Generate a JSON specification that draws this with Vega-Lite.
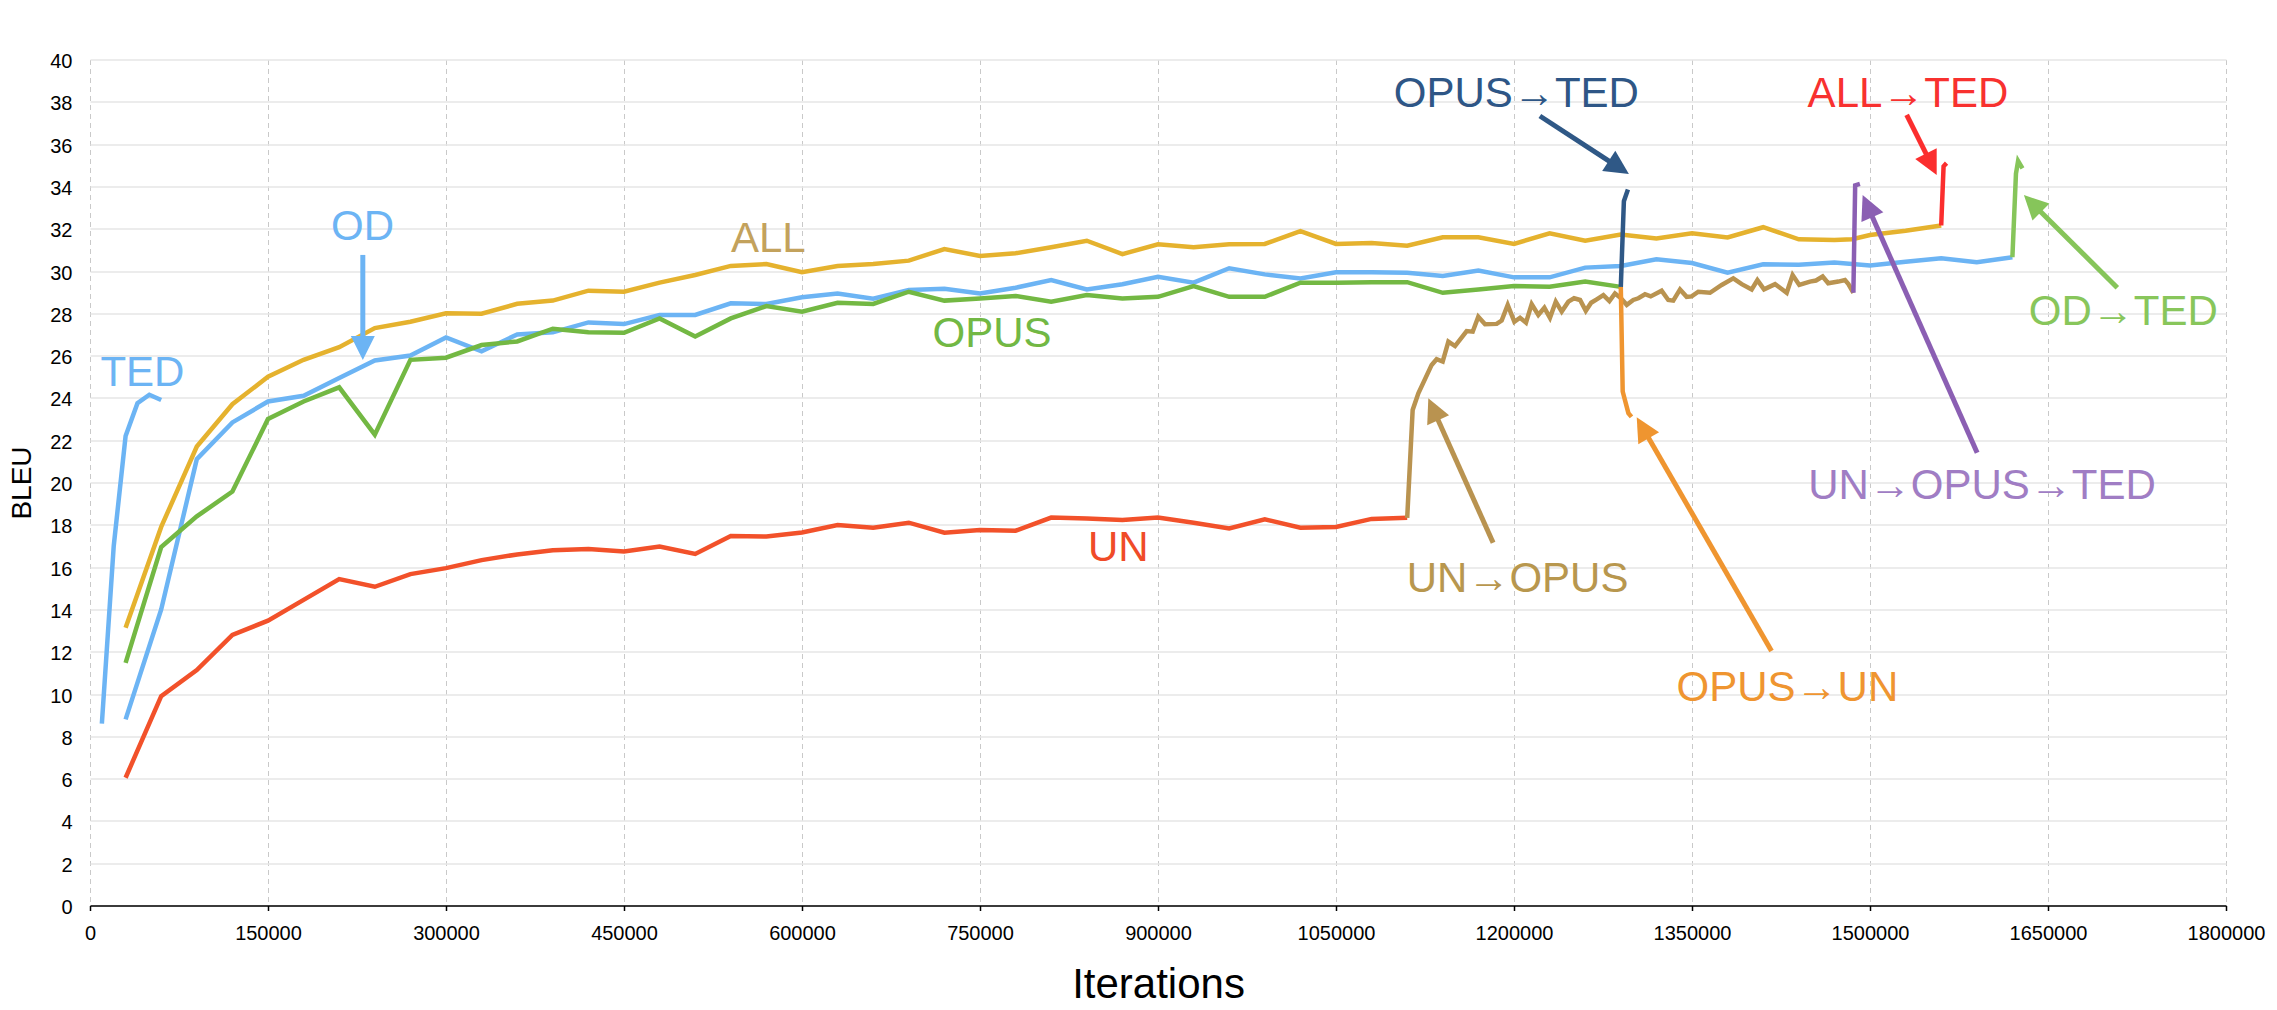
{
  "$schema": "https://vega.github.io/schema/vega-lite/v6.json",
  "width": 2136,
  "height": 846,
  "autosize": {"type": "none"},
  "padding": {"left": 90, "top": 59.5, "right": 51, "bottom": 104.5},
  "background": "white",
  "config": {
    "view": {"stroke": null},
    "font": "Liberation Sans",
    "axis": {"labelFont": "Liberation Sans", "titleFont": "Liberation Sans", "labelColor": "black", "titleColor": "black", "titleFontWeight": "normal"}
  },
  "datasets": {
    "series": [
      {"s": "TED", "it": 10000, "bleu": 8.6}, {"s": "TED", "it": 20000, "bleu": 17.0}, {"s": "TED", "it": 30000, "bleu": 22.2},
      {"s": "TED", "it": 40000, "bleu": 23.75}, {"s": "TED", "it": 50000, "bleu": 24.15}, {"s": "TED", "it": 60000, "bleu": 23.9},

      {"s": "OD", "it": 30000, "bleu": 8.8}, {"s": "OD", "it": 60000, "bleu": 14.0}, {"s": "OD", "it": 90000, "bleu": 21.1},
      {"s": "OD", "it": 120000, "bleu": 22.84}, {"s": "OD", "it": 150000, "bleu": 23.83}, {"s": "OD", "it": 180000, "bleu": 24.1},
      {"s": "OD", "it": 210000, "bleu": 24.94}, {"s": "OD", "it": 240000, "bleu": 25.77}, {"s": "OD", "it": 270000, "bleu": 26.0},
      {"s": "OD", "it": 300000, "bleu": 26.86}, {"s": "OD", "it": 330000, "bleu": 26.2}, {"s": "OD", "it": 360000, "bleu": 27.0},
      {"s": "OD", "it": 390000, "bleu": 27.1}, {"s": "OD", "it": 420000, "bleu": 27.57}, {"s": "OD", "it": 450000, "bleu": 27.49},
      {"s": "OD", "it": 480000, "bleu": 27.92}, {"s": "OD", "it": 510000, "bleu": 27.92}, {"s": "OD", "it": 540000, "bleu": 28.47},
      {"s": "OD", "it": 570000, "bleu": 28.44}, {"s": "OD", "it": 600000, "bleu": 28.76}, {"s": "OD", "it": 630000, "bleu": 28.94},
      {"s": "OD", "it": 660000, "bleu": 28.69}, {"s": "OD", "it": 690000, "bleu": 29.1}, {"s": "OD", "it": 720000, "bleu": 29.16},
      {"s": "OD", "it": 750000, "bleu": 28.94}, {"s": "OD", "it": 780000, "bleu": 29.21}, {"s": "OD", "it": 810000, "bleu": 29.57},
      {"s": "OD", "it": 840000, "bleu": 29.13}, {"s": "OD", "it": 870000, "bleu": 29.37}, {"s": "OD", "it": 900000, "bleu": 29.73},
      {"s": "OD", "it": 930000, "bleu": 29.45}, {"s": "OD", "it": 960000, "bleu": 30.13}, {"s": "OD", "it": 990000, "bleu": 29.84},
      {"s": "OD", "it": 1020000, "bleu": 29.65}, {"s": "OD", "it": 1050000, "bleu": 29.94}, {"s": "OD", "it": 1080000, "bleu": 29.94},
      {"s": "OD", "it": 1110000, "bleu": 29.92}, {"s": "OD", "it": 1140000, "bleu": 29.76}, {"s": "OD", "it": 1170000, "bleu": 30.02},
      {"s": "OD", "it": 1200000, "bleu": 29.7}, {"s": "OD", "it": 1230000, "bleu": 29.7}, {"s": "OD", "it": 1260000, "bleu": 30.16},
      {"s": "OD", "it": 1290000, "bleu": 30.24}, {"s": "OD", "it": 1320000, "bleu": 30.55}, {"s": "OD", "it": 1350000, "bleu": 30.38},
      {"s": "OD", "it": 1380000, "bleu": 29.92}, {"s": "OD", "it": 1410000, "bleu": 30.32}, {"s": "OD", "it": 1440000, "bleu": 30.29},
      {"s": "OD", "it": 1470000, "bleu": 30.4}, {"s": "OD", "it": 1500000, "bleu": 30.26}, {"s": "OD", "it": 1530000, "bleu": 30.44},
      {"s": "OD", "it": 1560000, "bleu": 30.6}, {"s": "OD", "it": 1590000, "bleu": 30.42}, {"s": "OD", "it": 1620000, "bleu": 30.65},

      {"s": "ALL", "it": 30000, "bleu": 13.13}, {"s": "ALL", "it": 60000, "bleu": 17.9}, {"s": "ALL", "it": 90000, "bleu": 21.7},
      {"s": "ALL", "it": 120000, "bleu": 23.7}, {"s": "ALL", "it": 150000, "bleu": 25.0}, {"s": "ALL", "it": 180000, "bleu": 25.8},
      {"s": "ALL", "it": 210000, "bleu": 26.4}, {"s": "ALL", "it": 240000, "bleu": 27.3}, {"s": "ALL", "it": 270000, "bleu": 27.6},
      {"s": "ALL", "it": 300000, "bleu": 28.0}, {"s": "ALL", "it": 330000, "bleu": 27.98}, {"s": "ALL", "it": 360000, "bleu": 28.45},
      {"s": "ALL", "it": 390000, "bleu": 28.6}, {"s": "ALL", "it": 420000, "bleu": 29.07}, {"s": "ALL", "it": 450000, "bleu": 29.02},
      {"s": "ALL", "it": 480000, "bleu": 29.45}, {"s": "ALL", "it": 510000, "bleu": 29.81}, {"s": "ALL", "it": 540000, "bleu": 30.24},
      {"s": "ALL", "it": 570000, "bleu": 30.33}, {"s": "ALL", "it": 600000, "bleu": 29.94}, {"s": "ALL", "it": 630000, "bleu": 30.24},
      {"s": "ALL", "it": 660000, "bleu": 30.33}, {"s": "ALL", "it": 690000, "bleu": 30.49}, {"s": "ALL", "it": 720000, "bleu": 31.04},
      {"s": "ALL", "it": 750000, "bleu": 30.71}, {"s": "ALL", "it": 780000, "bleu": 30.84}, {"s": "ALL", "it": 810000, "bleu": 31.12},
      {"s": "ALL", "it": 840000, "bleu": 31.43}, {"s": "ALL", "it": 870000, "bleu": 30.8}, {"s": "ALL", "it": 900000, "bleu": 31.26},
      {"s": "ALL", "it": 930000, "bleu": 31.12}, {"s": "ALL", "it": 960000, "bleu": 31.26}, {"s": "ALL", "it": 990000, "bleu": 31.28},
      {"s": "ALL", "it": 1020000, "bleu": 31.89}, {"s": "ALL", "it": 1050000, "bleu": 31.28}, {"s": "ALL", "it": 1080000, "bleu": 31.32},
      {"s": "ALL", "it": 1110000, "bleu": 31.2}, {"s": "ALL", "it": 1140000, "bleu": 31.59}, {"s": "ALL", "it": 1170000, "bleu": 31.59},
      {"s": "ALL", "it": 1200000, "bleu": 31.28}, {"s": "ALL", "it": 1230000, "bleu": 31.78}, {"s": "ALL", "it": 1260000, "bleu": 31.43},
      {"s": "ALL", "it": 1290000, "bleu": 31.73}, {"s": "ALL", "it": 1320000, "bleu": 31.54}, {"s": "ALL", "it": 1350000, "bleu": 31.78},
      {"s": "ALL", "it": 1380000, "bleu": 31.59}, {"s": "ALL", "it": 1410000, "bleu": 32.07}, {"s": "ALL", "it": 1440000, "bleu": 31.5},
      {"s": "ALL", "it": 1470000, "bleu": 31.46}, {"s": "ALL", "it": 1485000, "bleu": 31.5}, {"s": "ALL", "it": 1500000, "bleu": 31.7},
      {"s": "ALL", "it": 1530000, "bleu": 31.9}, {"s": "ALL", "it": 1560000, "bleu": 32.15},

      {"s": "OPUS", "it": 30000, "bleu": 11.47}, {"s": "OPUS", "it": 60000, "bleu": 16.95}, {"s": "OPUS", "it": 90000, "bleu": 18.4},
      {"s": "OPUS", "it": 120000, "bleu": 19.57}, {"s": "OPUS", "it": 150000, "bleu": 23.0}, {"s": "OPUS", "it": 180000, "bleu": 23.83},
      {"s": "OPUS", "it": 210000, "bleu": 24.5}, {"s": "OPUS", "it": 240000, "bleu": 22.26}, {"s": "OPUS", "it": 270000, "bleu": 25.8},
      {"s": "OPUS", "it": 300000, "bleu": 25.9}, {"s": "OPUS", "it": 330000, "bleu": 26.5}, {"s": "OPUS", "it": 360000, "bleu": 26.67},
      {"s": "OPUS", "it": 390000, "bleu": 27.27}, {"s": "OPUS", "it": 420000, "bleu": 27.1}, {"s": "OPUS", "it": 450000, "bleu": 27.08},
      {"s": "OPUS", "it": 480000, "bleu": 27.76}, {"s": "OPUS", "it": 510000, "bleu": 26.9}, {"s": "OPUS", "it": 540000, "bleu": 27.76},
      {"s": "OPUS", "it": 570000, "bleu": 28.34}, {"s": "OPUS", "it": 600000, "bleu": 28.08}, {"s": "OPUS", "it": 630000, "bleu": 28.5},
      {"s": "OPUS", "it": 660000, "bleu": 28.44}, {"s": "OPUS", "it": 690000, "bleu": 29.02}, {"s": "OPUS", "it": 720000, "bleu": 28.6},
      {"s": "OPUS", "it": 750000, "bleu": 28.7}, {"s": "OPUS", "it": 780000, "bleu": 28.82}, {"s": "OPUS", "it": 810000, "bleu": 28.55},
      {"s": "OPUS", "it": 840000, "bleu": 28.86}, {"s": "OPUS", "it": 870000, "bleu": 28.7}, {"s": "OPUS", "it": 900000, "bleu": 28.78},
      {"s": "OPUS", "it": 930000, "bleu": 29.29}, {"s": "OPUS", "it": 960000, "bleu": 28.78}, {"s": "OPUS", "it": 990000, "bleu": 28.78},
      {"s": "OPUS", "it": 1020000, "bleu": 29.45}, {"s": "OPUS", "it": 1050000, "bleu": 29.45}, {"s": "OPUS", "it": 1080000, "bleu": 29.47},
      {"s": "OPUS", "it": 1110000, "bleu": 29.47}, {"s": "OPUS", "it": 1140000, "bleu": 28.97}, {"s": "OPUS", "it": 1170000, "bleu": 29.13},
      {"s": "OPUS", "it": 1200000, "bleu": 29.29}, {"s": "OPUS", "it": 1230000, "bleu": 29.26}, {"s": "OPUS", "it": 1260000, "bleu": 29.5},
      {"s": "OPUS", "it": 1290000, "bleu": 29.25},

      {"s": "UN", "it": 30000, "bleu": 6.04}, {"s": "UN", "it": 60000, "bleu": 9.9}, {"s": "UN", "it": 90000, "bleu": 11.13},
      {"s": "UN", "it": 120000, "bleu": 12.79}, {"s": "UN", "it": 150000, "bleu": 13.47}, {"s": "UN", "it": 180000, "bleu": 14.45},
      {"s": "UN", "it": 210000, "bleu": 15.43}, {"s": "UN", "it": 240000, "bleu": 15.07}, {"s": "UN", "it": 270000, "bleu": 15.67},
      {"s": "UN", "it": 300000, "bleu": 15.95}, {"s": "UN", "it": 330000, "bleu": 16.33}, {"s": "UN", "it": 360000, "bleu": 16.6},
      {"s": "UN", "it": 390000, "bleu": 16.8}, {"s": "UN", "it": 420000, "bleu": 16.85}, {"s": "UN", "it": 450000, "bleu": 16.74},
      {"s": "UN", "it": 480000, "bleu": 16.97}, {"s": "UN", "it": 510000, "bleu": 16.62}, {"s": "UN", "it": 540000, "bleu": 17.47},
      {"s": "UN", "it": 570000, "bleu": 17.45}, {"s": "UN", "it": 600000, "bleu": 17.64}, {"s": "UN", "it": 630000, "bleu": 17.99},
      {"s": "UN", "it": 660000, "bleu": 17.86}, {"s": "UN", "it": 690000, "bleu": 18.1}, {"s": "UN", "it": 720000, "bleu": 17.63},
      {"s": "UN", "it": 750000, "bleu": 17.75}, {"s": "UN", "it": 780000, "bleu": 17.72}, {"s": "UN", "it": 810000, "bleu": 18.34},
      {"s": "UN", "it": 840000, "bleu": 18.3}, {"s": "UN", "it": 870000, "bleu": 18.23}, {"s": "UN", "it": 900000, "bleu": 18.34},
      {"s": "UN", "it": 930000, "bleu": 18.1}, {"s": "UN", "it": 960000, "bleu": 17.83}, {"s": "UN", "it": 990000, "bleu": 18.26},
      {"s": "UN", "it": 1020000, "bleu": 17.86}, {"s": "UN", "it": 1050000, "bleu": 17.9}, {"s": "UN", "it": 1080000, "bleu": 18.28},
      {"s": "UN", "it": 1110000, "bleu": 18.33},

      {"s": "UN→OPUS", "it": 1110000, "bleu": 18.33}, {"s": "UN→OPUS", "it": 1114600, "bleu": 23.43}, {"s": "UN→OPUS", "it": 1119400, "bleu": 24.22},
      {"s": "UN→OPUS", "it": 1130600, "bleu": 25.56}, {"s": "UN→OPUS", "it": 1134800, "bleu": 25.83}, {"s": "UN→OPUS", "it": 1139900, "bleu": 25.72},
      {"s": "UN→OPUS", "it": 1144700, "bleu": 26.66}, {"s": "UN→OPUS", "it": 1150300, "bleu": 26.45}, {"s": "UN→OPUS", "it": 1160100, "bleu": 27.16},
      {"s": "UN→OPUS", "it": 1165200, "bleu": 27.13}, {"s": "UN→OPUS", "it": 1169900, "bleu": 27.84}, {"s": "UN→OPUS", "it": 1175600, "bleu": 27.48},
      {"s": "UN→OPUS", "it": 1185400, "bleu": 27.5}, {"s": "UN→OPUS", "it": 1189600, "bleu": 27.66}, {"s": "UN→OPUS", "it": 1194700, "bleu": 28.4},
      {"s": "UN→OPUS", "it": 1200300, "bleu": 27.6}, {"s": "UN→OPUS", "it": 1205100, "bleu": 27.79}, {"s": "UN→OPUS", "it": 1210100, "bleu": 27.56},
      {"s": "UN→OPUS", "it": 1214900, "bleu": 28.43}, {"s": "UN→OPUS", "it": 1220500, "bleu": 27.92}, {"s": "UN→OPUS", "it": 1225600, "bleu": 28.26},
      {"s": "UN→OPUS", "it": 1230300, "bleu": 27.79}, {"s": "UN→OPUS", "it": 1235200, "bleu": 28.55}, {"s": "UN→OPUS", "it": 1240200, "bleu": 28.08},
      {"s": "UN→OPUS", "it": 1245800, "bleu": 28.55}, {"s": "UN→OPUS", "it": 1250600, "bleu": 28.71}, {"s": "UN→OPUS", "it": 1255700, "bleu": 28.63},
      {"s": "UN→OPUS", "it": 1260500, "bleu": 28.12}, {"s": "UN→OPUS", "it": 1265000, "bleu": 28.5}, {"s": "UN→OPUS", "it": 1269700, "bleu": 28.66},
      {"s": "UN→OPUS", "it": 1275300, "bleu": 28.86}, {"s": "UN→OPUS", "it": 1280400, "bleu": 28.58}, {"s": "UN→OPUS", "it": 1285100, "bleu": 28.94},
      {"s": "UN→OPUS", "it": 1290200, "bleu": 28.71}, {"s": "UN→OPUS", "it": 1295000, "bleu": 28.4}, {"s": "UN→OPUS", "it": 1300500, "bleu": 28.63},
      {"s": "UN→OPUS", "it": 1304800, "bleu": 28.71}, {"s": "UN→OPUS", "it": 1310400, "bleu": 28.9}, {"s": "UN→OPUS", "it": 1315200, "bleu": 28.8},
      {"s": "UN→OPUS", "it": 1324400, "bleu": 29.07}, {"s": "UN→OPUS", "it": 1330000, "bleu": 28.63}, {"s": "UN→OPUS", "it": 1334200, "bleu": 28.6},
      {"s": "UN→OPUS", "it": 1339900, "bleu": 29.13}, {"s": "UN→OPUS", "it": 1345500, "bleu": 28.78}, {"s": "UN→OPUS", "it": 1349700, "bleu": 28.8},
      {"s": "UN→OPUS", "it": 1355300, "bleu": 29.02}, {"s": "UN→OPUS", "it": 1365200, "bleu": 28.97}, {"s": "UN→OPUS", "it": 1375000, "bleu": 29.34},
      {"s": "UN→OPUS", "it": 1384800, "bleu": 29.65}, {"s": "UN→OPUS", "it": 1391900, "bleu": 29.38}, {"s": "UN→OPUS", "it": 1400300, "bleu": 29.13},
      {"s": "UN→OPUS", "it": 1405100, "bleu": 29.57}, {"s": "UN→OPUS", "it": 1410700, "bleu": 29.13}, {"s": "UN→OPUS", "it": 1420000, "bleu": 29.38},
      {"s": "UN→OPUS", "it": 1429800, "bleu": 28.97}, {"s": "UN→OPUS", "it": 1434800, "bleu": 29.81}, {"s": "UN→OPUS", "it": 1440400, "bleu": 29.34},
      {"s": "UN→OPUS", "it": 1449400, "bleu": 29.5}, {"s": "UN→OPUS", "it": 1454500, "bleu": 29.55}, {"s": "UN→OPUS", "it": 1460100, "bleu": 29.74},
      {"s": "UN→OPUS", "it": 1464800, "bleu": 29.42}, {"s": "UN→OPUS", "it": 1473300, "bleu": 29.5}, {"s": "UN→OPUS", "it": 1478900, "bleu": 29.57},
      {"s": "UN→OPUS", "it": 1481800, "bleu": 29.38}, {"s": "UN→OPUS", "it": 1486000, "bleu": 28.97},

      {"s": "OPUS→UN", "it": 1290000, "bleu": 29.25}, {"s": "OPUS→UN", "it": 1291600, "bleu": 24.3},
      {"s": "OPUS→UN", "it": 1296400, "bleu": 23.28}, {"s": "OPUS→UN", "it": 1299000, "bleu": 23.1},

      {"s": "OPUS→TED", "it": 1290000, "bleu": 29.25}, {"s": "OPUS→TED", "it": 1292600, "bleu": 33.3},
      {"s": "OPUS→TED", "it": 1296000, "bleu": 33.85},

      {"s": "ALL→TED", "it": 1560000, "bleu": 32.15}, {"s": "ALL→TED", "it": 1562000, "bleu": 34.95},
      {"s": "ALL→TED", "it": 1564500, "bleu": 35.1},

      {"s": "UN→OPUS→TED", "it": 1486000, "bleu": 28.97}, {"s": "UN→OPUS→TED", "it": 1487500, "bleu": 34.05},
      {"s": "UN→OPUS→TED", "it": 1491500, "bleu": 34.12},

      {"s": "OD→TED", "it": 1620000, "bleu": 30.65}, {"s": "OD→TED", "it": 1623000, "bleu": 34.6},
      {"s": "OD→TED", "it": 1624800, "bleu": 35.2}, {"s": "OD→TED", "it": 1628500, "bleu": 34.85}
    ],
    "notes": [
      {"label": "TED", "lx": 44200, "ly": 24.56},
      {"label": "OD", "lx": 229700, "ly": 31.47, "tx": 229900, "ty": 30.76, "hx": 229900, "hy": 25.79},
      {"label": "ALL", "lx": 571600, "ly": 30.91},
      {"label": "OPUS", "lx": 760100, "ly": 26.42},
      {"label": "UN", "lx": 866500, "ly": 16.3},
      {"label": "UN→OPUS", "lx": 1203000, "ly": 14.84, "tx": 1182400, "ty": 17.15, "hx": 1127800, "hy": 23.98},
      {"label": "OPUS→UN", "lx": 1430400, "ly": 9.68, "tx": 1417000, "ty": 12.03, "hx": 1303400, "hy": 23.08},
      {"label": "OPUS→TED", "lx": 1202000, "ly": 37.77, "tx": 1221800, "ty": 37.33, "hx": 1296800, "hy": 34.59},
      {"label": "ALL→TED", "lx": 1532000, "ly": 37.77, "tx": 1530900, "ty": 37.38, "hx": 1556200, "hy": 34.54},
      {"label": "UN→OPUS→TED", "lx": 1594400, "ly": 19.2, "tx": 1590300, "ty": 21.41, "hx": 1493800, "hy": 33.59},
      {"label": "OD→TED", "lx": 1713500, "ly": 27.45, "tx": 1708400, "ty": 29.21, "hx": 1629700, "hy": 33.59}
    ]
  },
  "resolve": {"scale": {"color": "independent"}},
  "layer": [
    {
      "data": {"name": "series"},
      "mark": {"type": "line", "strokeWidth": 4.5},
      "encoding": {
        "x": {
          "field": "it",
          "type": "quantitative",
          "title": "Iterations",
          "scale": {"domain": [0, 1800000], "nice": false, "zero": false},
          "axis": {
            "values": [0, 150000, 300000, 450000, 600000, 750000, 900000, 1050000, 1200000, 1350000, 1500000, 1650000, 1800000],
            "format": "d",
            "labelFontSize": 20,
            "labelPadding": 12.5,
            "labelFlush": false,
            "labelOverlap": false,
            "tickSize": 5,
            "tickWidth": 1.5,
            "tickColor": "black",
            "domainColor": "black",
            "domainWidth": 1.5,
            "grid": true,
            "gridColor": "#c9c9c9",
            "gridDash": [5, 4],
            "gridWidth": 1,
            "titleFontSize": 42,
            "titleBaseline": "alphabetic",
            "titleY": 92
          }
        },
        "y": {
          "field": "bleu",
          "type": "quantitative",
          "title": "BLEU",
          "scale": {"domain": [0, 40], "nice": false},
          "axis": {
            "values": [0, 1, 2, 3, 4, 5, 6, 7, 8, 9, 10, 11, 12, 13, 14, 15, 16, 17, 18, 19, 20, 21, 22, 23, 24, 25, 26, 27, 28, 29, 30, 31, 32, 33, 34, 35, 36, 37, 38, 39, 40],
            "labelExpr": "datum.value % 2 === 0 ? datum.label : ''",
            "labelFontSize": 20,
            "labelPadding": 18,
            "labelOffset": 2,
            "ticks": false,
            "domain": false,
            "grid": true,
            "gridColor": "#e6e6e6",
            "gridWidth": 1.5,
            "titleFontSize": 28,
            "titleBaseline": "alphabetic",
            "titleX": -60,
            "titleY": 423
          }
        },
        "color": {
          "field": "s",
          "type": "nominal",
          "legend": null,
          "scale": {
            "domain": ["ALL", "OD", "TED", "OPUS", "UN", "UN→OPUS", "OPUS→UN", "OPUS→TED", "ALL→TED", "UN→OPUS→TED", "OD→TED"],
            "range": ["#e5b22e", "#6cb4f4", "#6cb4f4", "#73b843", "#f2512a", "#b99350", "#ef9530", "#2f5886", "#fb2e2e", "#8b5fb3", "#86c55a"]
          }
        }
      }
    },
    {
      "data": {"name": "notes"},
      "transform": [
        {"filter": "isValid(datum.hx)"},
        {"calculate": "(datum.hx - datum.tx) * 2136 / 1800000", "as": "dxs"},
        {"calculate": "(datum.hy - datum.ty) * 846 / 40", "as": "dys"},
        {"calculate": "sqrt(datum.dxs * datum.dxs + datum.dys * datum.dys)", "as": "len"},
        {"calculate": "datum.hx - (datum.hx - datum.tx) * 14 / datum.len", "as": "ex"},
        {"calculate": "datum.hy - (datum.hy - datum.ty) * 14 / datum.len", "as": "ey"},
        {"calculate": "atan2(datum.dxs, datum.dys) * 180 / PI", "as": "ang"}
      ],
      "layer": [
        {
          "mark": {"type": "rule", "strokeWidth": 5},
          "encoding": {
            "x": {"field": "tx", "type": "quantitative", "title": "Iterations"},
            "y": {"field": "ty", "type": "quantitative", "title": "BLEU"},
            "x2": {"field": "ex"},
            "y2": {"field": "ey"}
          }
        },
        {
          "mark": {"type": "point", "shape": "M0,0L-1,2L1,2Z", "filled": true, "opacity": 1, "size": 576, "strokeWidth": 0},
          "encoding": {
            "x": {"field": "hx", "type": "quantitative", "title": "Iterations"},
            "y": {"field": "hy", "type": "quantitative", "title": "BLEU"},
            "angle": {"field": "ang", "type": "quantitative", "scale": null}
          }
        }
      ],
      "encoding": {
        "color": {
          "field": "label",
          "type": "nominal",
          "legend": null,
          "scale": {
            "domain": ["ALL", "OD", "TED", "OPUS", "UN", "UN→OPUS", "OPUS→UN", "OPUS→TED", "ALL→TED", "UN→OPUS→TED", "OD→TED"],
            "range": ["#e5b22e", "#6cb4f4", "#6cb4f4", "#73b843", "#f2512a", "#b99350", "#ef9530", "#2f5886", "#fb2e2e", "#8b5fb3", "#86c55a"]
          }
        }
      }
    },
    {
      "data": {"name": "notes"},
      "mark": {"type": "text", "font": "Liberation Sans", "fontSize": 42, "align": "center", "baseline": "alphabetic"},
      "encoding": {
        "x": {"field": "lx", "type": "quantitative", "title": "Iterations"},
        "y": {"field": "ly", "type": "quantitative", "title": "BLEU"},
        "text": {"field": "label"},
        "color": {
          "field": "label",
          "type": "nominal",
          "legend": null,
          "scale": {
            "domain": ["ALL", "OD", "TED", "OPUS", "UN", "UN→OPUS", "OPUS→UN", "OPUS→TED", "ALL→TED", "UN→OPUS→TED", "OD→TED"],
            "range": ["#c3a25c", "#6cb4f4", "#6cb4f4", "#72b844", "#f04b28", "#b8974e", "#ef9530", "#2e5686", "#f8312f", "#a07dc4", "#88c65b"]
          }
        }
      }
    }
  ]
}
